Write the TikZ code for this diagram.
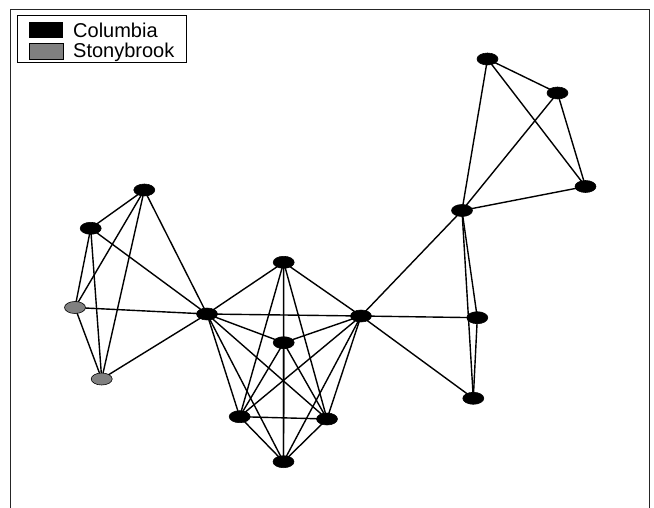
\documentclass[tikz,border=0pt]{standalone}
\usepackage{fontspec}
\setmainfont{Liberation Sans}
\usetikzlibrary{shapes.geometric}
\begin{document}
\begin{tikzpicture}[x=1pt,y=-1pt,
  vtx/.style={ellipse,draw=black,line width=0.6pt,minimum width=21pt,minimum height=12pt,inner sep=0pt},
  cu/.style={vtx,fill=black},
  sb/.style={vtx,fill=black!50},
  edge/.style={line width=1.4pt,black},
  legtext/.style={anchor=base west,inner sep=0pt,font=\fontsize{20}{22}\selectfont}]
\useasboundingbox (0,0) rectangle (654,508);
% outer frame (open at the bottom)
\draw[line width=1.6pt,black!85] (10.5,508) -- (10.5,9.5) -- (649.5,9.5) -- (649.5,508);
% legend
\draw[line width=1pt] (17,16) rectangle (186,63);
\fill[black] (29,22) rectangle (63,38);
\draw[fill=black!50,line width=0.6pt] (29,43) rectangle (63,59);
\node[legtext] (lc) at (73,37.5) {Columbia};
\node[legtext] (ls) at (73,58) {Stonybrook};
% vertices
\coordinate (pA) at (487.5,59);
\coordinate (pB) at (557.5,93);
\coordinate (pC) at (585.5,186.5);
\coordinate (pD) at (462,210.5);
\coordinate (pE) at (144.3,190);
\coordinate (pF) at (90.7,228.3);
\coordinate (pG) at (75,307.5);
\coordinate (pH) at (101.7,379);
\coordinate (pI) at (207,314);
\coordinate (pJ) at (283.7,262.3);
\coordinate (pK) at (361,316);
\coordinate (pL) at (283.7,342.7);
\coordinate (pM) at (239.7,416.7);
\coordinate (pN) at (327,419);
\coordinate (pO) at (283.5,461.7);
\coordinate (pP) at (477.3,317.7);
\coordinate (pQ) at (473.3,398.3);
% edges, drawn centre to centre beneath the vertices
\foreach \u/\v in {A/B,A/C,A/D,B/C,B/D,C/D,
                   D/K,D/P,D/Q,P/Q,K/P,K/Q,
                   E/F,E/G,E/H,E/I,F/G,F/H,F/I,G/H,G/I,H/I,
                   I/J,I/K,I/L,I/M,I/N,I/O,
                   J/K,J/L,J/M,J/N,J/O,
                   K/L,K/M,K/N,K/O,
                   L/M,L/N,L/O,M/N,M/O,N/O}
  \draw[edge] (p\u) -- (p\v);
% vertex marks
\foreach \n in {A,B,C,D,E,F,I,J,K,L,M,N,O,P,Q}
  \node[cu] (\n) at (p\n) {};
\foreach \n in {G,H}
  \node[sb] (\n) at (p\n) {};
\end{tikzpicture}
\end{document}
